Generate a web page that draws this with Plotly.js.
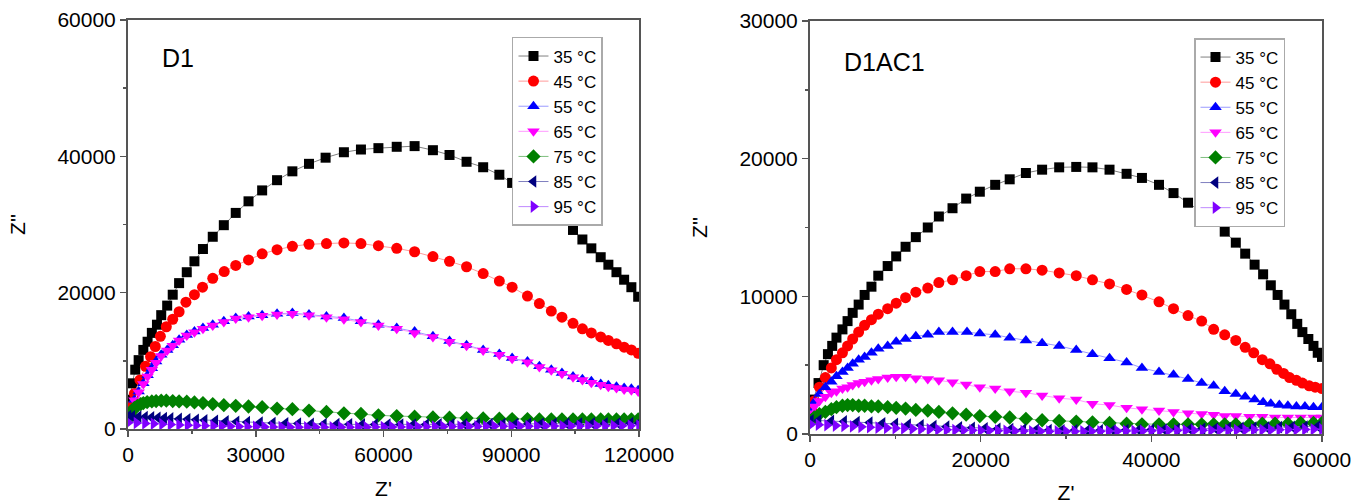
<!DOCTYPE html>
<html>
<head>
<meta charset="utf-8">
<script src="https://cdn.plot.ly/plotly-3.0.1.min.js"></script>
<style>html,body{margin:0;padding:0;background:#fff;}#chart{width:1351px;height:504px;}</style>
</head>
<body>
<div id="chart"></div>
<script>
// ---------- data ----------
const seriesNames = ["35 °C", "45 °C", "55 °C", "65 °C", "75 °C", "85 °C", "95 °C"];

// Panel D1
const d1_x35 = [150, 500, 1000, 1700, 2500, 3600, 4600, 5600, 6800, 7800, 9200, 10500, 12000, 13800, 15600, 17600, 19900, 22500, 25300, 28300, 31500, 35000, 38600, 42500, 46400, 50700, 54700, 58800, 63100, 67300, 71600, 75500, 79500, 83400, 87200, 90200, 93800, 96600, 99400, 101900, 104500, 106700, 108800, 111000, 112800, 114700, 116500, 118200, 119800];
const d1_y35 = [2000, 4300, 6700, 8700, 10100, 11600, 12800, 14100, 15300, 16700, 18100, 19700, 21400, 23000, 24600, 26400, 28200, 29900, 31700, 33400, 35000, 36500, 37800, 38900, 39800, 40600, 41000, 41200, 41400, 41500, 40900, 40200, 39200, 38400, 37300, 36100, 34600, 33200, 31900, 30600, 29200, 27800, 26500, 25200, 24100, 23000, 21900, 20800, 19400];

const d1_x45 = [300, 700, 1500, 2800, 4100, 5300, 6400, 7600, 9000, 10500, 12000, 13600, 15600, 17500, 19900, 22600, 25300, 28300, 31500, 35000, 38600, 42500, 46600, 50700, 54700, 58800, 63100, 67300, 71600, 75500, 79500, 83400, 87200, 90200, 93800, 96600, 99400, 101900, 104500, 106700, 108800, 111000, 112800, 114700, 116500, 118200, 119800];
const d1_y45 = [1800, 3300, 5200, 7200, 9200, 10600, 12100, 13600, 15000, 16100, 17200, 18600, 19700, 20800, 22100, 23100, 24000, 24800, 25700, 26300, 26800, 27100, 27200, 27300, 27200, 26900, 26500, 26000, 25300, 24600, 23800, 22800, 21700, 20800, 19500, 18400, 17300, 16400, 15500, 14700, 14100, 13500, 13000, 12500, 12000, 11600, 11100];

const d1_x55 = [300, 700, 1500, 2500, 3600, 4600, 5600, 6600, 7800, 9200, 10500, 12000, 13800, 15600, 17600, 19900, 22500, 25300, 28300, 31500, 35000, 38600, 42500, 46600, 50700, 54700, 58800, 63100, 67300, 71600, 75500, 79500, 83400, 87200, 90200, 93800, 96600, 99400, 101900, 104500, 106700, 108800, 111000, 112800, 114700, 116500, 118200, 119800];
const d1_y55 = [1600, 2800, 4300, 5500, 6700, 7900, 8900, 9900, 10900, 11600, 12300, 13100, 13800, 14300, 14800, 15300, 15800, 16300, 16500, 16700, 16900, 17000, 16800, 16500, 16300, 15800, 15300, 14800, 14300, 13600, 12900, 12300, 11600, 11000, 10400, 9900, 9200, 8700, 8200, 7700, 7300, 7000, 6600, 6400, 6200, 6000, 5900, 5700];

const d1_x65 = [300, 700, 1500, 2500, 3600, 4600, 5600, 6600, 7800, 9200, 10500, 12000, 13800, 15600, 17600, 19900, 22500, 25300, 28300, 31500, 35000, 38600, 42500, 46600, 50700, 54700, 58800, 63100, 67300, 71600, 75500, 79500, 83400, 87200, 90200, 93800, 96600, 99400, 101900, 104500, 106700, 108800, 111000, 112800, 114700, 116500, 118200, 119800];
const d1_y65 = [1500, 2700, 4200, 5400, 6600, 7700, 8700, 9700, 10700, 11500, 12200, 13000, 13700, 14200, 14700, 15200, 15700, 16200, 16400, 16600, 16800, 16900, 16700, 16400, 16100, 15700, 15200, 14700, 14100, 13500, 12800, 12200, 11500, 10900, 10300, 9800, 9100, 8600, 8100, 7600, 7200, 6800, 6500, 6200, 6000, 5800, 5700, 5500];

const d1_x75 = [100, 500, 1000, 1500, 2200, 3000, 3600, 4500, 5600, 6600, 7800, 9000, 10500, 12000, 13800, 15600, 17600, 19900, 22500, 25300, 28300, 31500, 35000, 38600, 42500, 46600, 50700, 54700, 58800, 63100, 67300, 71600, 75500, 79500, 83400, 87200, 90200, 93800, 96600, 99400, 101900, 104500, 106700, 108800, 111000, 112800, 114700, 116500, 118200, 119800];
const d1_y75 = [1500, 2200, 2700, 3100, 3400, 3650, 3800, 3950, 4050, 4100, 4150, 4150, 4100, 4050, 4000, 3900, 3800, 3650, 3500, 3400, 3300, 3200, 3000, 2900, 2700, 2500, 2300, 2200, 2000, 1900, 1800, 1700, 1650, 1600, 1550, 1500, 1450, 1450, 1400, 1400, 1400, 1400, 1400, 1400, 1400, 1400, 1400, 1400, 1400, 1400];

const d1_x85 = [100, 1000, 2500, 4000, 5500, 7000, 8500, 10000, 12000, 14000,
                16000, 18000, 20500, 23000, 25500, 28000, 31000, 34000, 37000, 40000,
                43000, 46000, 49000, 52000, 55000, 58000, 61000, 64000, 67000, 70000,
                73000, 76000, 79000, 82000, 85000, 88000, 91000, 94000, 97000, 100000,
                103000, 106000, 109000, 112000, 115000, 118000, 120000];
const d1_y85 = [1900, 1850, 1800, 1750, 1700, 1650, 1600, 1550, 1480, 1420,
                1350, 1280, 1200, 1130, 1060, 1000, 940, 880, 830, 790,
                750, 720, 700, 680, 670, 660, 650, 650, 650, 660,
                670, 680, 690, 700, 710, 720, 730, 740, 760, 770,
                780, 800, 810, 820, 840, 850, 860];

const d1_x95 = [100, 2000, 4000, 6000, 8000, 10000, 12000, 14000, 16000, 18000,
                20000, 22000, 24000, 26000, 28000, 30000, 32000, 34000, 36000, 38000,
                40000, 42000, 44000, 46000, 48000, 50000, 52000, 54000, 56000, 58000,
                60000, 62000, 64000, 66000, 68000, 70000, 72000, 74000, 76000, 78000,
                80000, 82000, 84000, 86000, 88000, 90000, 92000, 94000, 96000, 98000,
                100000, 102000, 104000, 106000, 108000, 110000, 112000, 114000, 116000, 118000, 120000];
const d1_y95 = [950, 880, 820, 760, 700, 650, 600, 560, 520, 480,
                450, 420, 390, 360, 340, 320, 300, 290, 280, 270,
                260, 250, 250, 250, 250, 260, 260, 270, 270, 280,
                290, 300, 300, 310, 320, 330, 340, 340, 350, 360,
                370, 380, 380, 390, 400, 400, 410, 420, 420, 430,
                440, 440, 450, 450, 460, 470, 470, 480, 480, 490, 500];

// Panel D1AC1
const d2_x35 = [150, 400, 1000, 1600, 2100, 2600, 3100, 3800, 4400, 5000, 5700, 6400, 7200, 8000, 9100, 10100, 11200, 12400, 13800, 15100, 16700, 18300, 19900, 21700, 23400, 25300, 27200, 29200, 31200, 33100, 35100, 37100, 38900, 40900, 42600, 44300, 46000, 47300, 48600, 49900, 51000, 52100, 53100, 54000, 54800, 55600, 56400, 57100, 57700, 58400, 59000, 59500, 60000];
const d2_y35 = [1800, 2500, 3700, 5000, 5800, 6400, 7000, 7600, 8200, 8800, 9400, 10100, 10700, 11500, 12200, 12900, 13600, 14300, 15000, 15800, 16400, 17100, 17600, 18100, 18500, 18960, 19200, 19370, 19400, 19370, 19200, 18900, 18600, 18100, 17500, 16800, 16100, 15500, 14700, 13900, 13100, 12300, 11600, 10800, 10100, 9400, 8700, 8000, 7400, 6900, 6400, 5900, 5600];

const d2_x45 = [200, 500, 1100, 1800, 2500, 3100, 3800, 4400, 5000, 5700, 6400, 7200, 8000, 9100, 10100, 11200, 12400, 13800, 15100, 16700, 18300, 19900, 21700, 23400, 25300, 27200, 29200, 31200, 33100, 35100, 37100, 38900, 40900, 42600, 44300, 45900, 47300, 48600, 49900, 51000, 52000, 53000, 53900, 54700, 55500, 56200, 57000, 57700, 58500, 59200, 60000];
const d2_y45 = [1700, 2400, 3400, 4100, 4800, 5400, 5900, 6400, 6900, 7400, 7900, 8300, 8700, 9100, 9500, 9900, 10300, 10600, 11000, 11200, 11500, 11800, 11800, 12000, 12000, 11900, 11700, 11500, 11200, 10900, 10500, 10100, 9600, 9100, 8600, 8200, 7600, 7200, 6800, 6300, 5900, 5400, 5100, 4700, 4400, 4100, 3900, 3700, 3500, 3400, 3300];

const d2_x55 = [200, 500, 1100, 1800, 2500, 3100, 3800, 4400, 5000, 5700, 6400, 7200, 8000, 9100, 10100, 11200, 12400, 13800, 15100, 16700, 18400, 19900, 21700, 23400, 25300, 27200, 29200, 31200, 33100, 35100, 37100, 38900, 40900, 42600, 44300, 45900, 47300, 48600, 49900, 51000, 52100, 53100, 54000, 55000, 56000, 57000, 58000, 59000, 60000];
const d2_y55 = [1600, 2300, 2900, 3400, 3800, 4200, 4500, 4800, 5100, 5400, 5600, 5900, 6200, 6400, 6700, 6900, 7100, 7200, 7400, 7400, 7400, 7300, 7200, 7000, 6800, 6600, 6400, 6100, 5800, 5500, 5200, 4800, 4500, 4300, 4000, 3700, 3500, 3100, 2900, 2700, 2500, 2300, 2200, 2100, 2050, 2000, 2000, 1950, 1950];

const d2_x65 = [200, 500, 1100, 1800, 2500, 3100, 3800, 4400, 5000, 5700, 6400, 7200, 8000, 9100, 10100, 11200, 12400, 13800, 15100, 16700, 18300, 19900, 21700, 23400, 25300, 27200, 29200, 31200, 33100, 35100, 37100, 38900, 40900, 42600, 44300, 45900, 47300, 48600, 49900, 51500, 53000, 54500, 56000, 57500, 59000, 60000];
const d2_y65 = [1500, 2000, 2400, 2700, 3000, 3100, 3300, 3400, 3550, 3700, 3800, 3900, 4000, 4100, 4150, 4150, 4050, 4000, 3900, 3750, 3600, 3400, 3300, 3100, 3000, 2800, 2600, 2500, 2200, 2100, 1900, 1800, 1700, 1600, 1500, 1450, 1400, 1300, 1300, 1250, 1250, 1200, 1200, 1200, 1200, 1200];

const d2_x75 = [200, 500, 1100, 1800, 2500, 3100, 3800, 4400, 5000, 5700, 6400, 7200, 8000, 9100, 10100, 11200, 12400, 13800, 15100, 16700, 18300, 19900, 21700, 23400, 25300, 27200, 29200, 31200, 33100, 35100, 37100, 38900, 40900, 42600, 44300, 45900, 47300, 48600, 49900, 51500, 53000, 54500, 56000, 57500, 59000, 60000];
const d2_y75 = [1000, 1200, 1450, 1600, 1800, 1950, 2050, 2100, 2100, 2050, 2050, 2000, 2000, 1950, 1900, 1850, 1750, 1700, 1600, 1500, 1400, 1300, 1250, 1200, 1100, 1000, 950, 900, 850, 800, 750, 700, 700, 700, 700, 700, 700, 700, 700, 700, 750, 750, 750, 800, 800, 800];

const d2_x85 = [100, 1000, 2500, 4000, 5500, 7000, 8500, 10000, 11500, 13000,
                14500, 16000, 17500, 19000, 20500, 22000, 23500, 25000, 26500, 28000,
                29500, 31000, 32500, 34000, 35500, 37000, 38500, 40000, 41500, 43000,
                44500, 46000, 47500, 49000, 50500, 52000, 53500, 55000, 56500, 58000, 59500];
const d2_y85 = [1000, 980, 950, 910, 870, 830, 780, 730, 680, 630,
                580, 530, 490, 450, 410, 380, 350, 320, 300, 280,
                270, 260, 260, 260, 270, 280, 290, 300, 320, 340,
                360, 380, 400, 420, 440, 460, 480, 500, 520, 540, 560];

const d2_x95 = [100, 1000, 2000, 3000, 4000, 5000, 6000, 7000, 8000, 9000,
                10000, 11000, 12000, 13000, 14000, 15000, 16000, 17000, 18000, 19000,
                20000, 21000, 22000, 23000, 24000, 25000, 26000, 27000, 28000, 29000,
                30000, 31000, 32000, 33000, 34000, 35000, 36000, 37000, 38000, 39000,
                40000, 41000, 42000, 43000, 44000, 45000, 46000, 47000, 48000, 49000,
                50000, 51000, 52000, 53000, 54000, 55000, 56000, 57000, 58000, 59000, 60000];
const d2_y95 = [700, 670, 640, 610, 580, 550, 520, 490, 460, 440,
                420, 400, 380, 360, 340, 320, 300, 290, 280, 270,
                260, 250, 240, 230, 220, 210, 200, 200, 190, 190,
                190, 190, 190, 200, 200, 210, 210, 220, 220, 230,
                240, 240, 250, 250, 260, 260, 270, 270, 280, 280,
                290, 290, 300, 300, 310, 310, 320, 320, 330, 340, 350];

const panelLabels = ["D1", "D1AC1"];
const axisTitleX = "Z'";
const axisTitleY = "Z''";

// ---------- styles ----------
const markerColors = ["#000000", "#ff0000", "#0000ff", "#ff00ff", "#008000", "#000080", "#7f00ff"];
const lineColors = ["#808080", "#ff9a9a", "#9a9aff", "#ff9aff", "#7fbf7f", "#7f7fbf", "#bf8aff"];
const symbols = ["square", "circle", "triangle-up", "triangle-down", "diamond", "triangle-left", "triangle-right"];
const sizes = [10, 11, 11, 11, 11, 11, 11];

const d1X = [d1_x35, d1_x45, d1_x55, d1_x65, d1_x75, d1_x85, d1_x95];
const d1Y = [d1_y35, d1_y45, d1_y55, d1_y65, d1_y75, d1_y85, d1_y95];
const d2X = [d2_x35, d2_x45, d2_x55, d2_x65, d2_x75, d2_x85, d2_x95];
const d2Y = [d2_y35, d2_y45, d2_y55, d2_y65, d2_y75, d2_y85, d2_y95];

const FONT = "Liberation Sans, Arial, Helvetica, sans-serif";
const traces = [];
function addPanel(X, Y, xa, ya, leg) {
  for (let i = 0; i < seriesNames.length; i++) {
    traces.push({
      type: "scatter", mode: "lines+markers",
      x: X[i], y: Y[i], name: seriesNames[i],
      xaxis: xa, yaxis: ya, legend: leg,
      line: {color: lineColors[i], width: 1},
      marker: {symbol: symbols[i], color: markerColors[i], size: sizes[i]},
      cliponaxis: true, hoverinfo: "x+y+name"
    });
  }
}
addPanel(d1X, d1Y, "x", "y", "legend");
addPanel(d2X, d2Y, "x2", "y2", "legend2");

const AX = "#555555";
function axis(extra) {
  return Object.assign({
    showline: true, linecolor: AX, linewidth: 2, mirror: true,
    ticks: "outside", ticklen: 6, tickwidth: 1.5, tickcolor: AX,
    showgrid: false, zeroline: false, tickformat: "d",
    tickfont: {family: FONT, size: 21, color: "#000"},
    ticklabeloverflow: "allow",
    automargin: false
  }, extra);
}
function legendBox(x, y) {
  return {
    x: x, y: y, xanchor: "left", yanchor: "top",
    bgcolor: "#ffffff", bordercolor: "#aaaaaa", borderwidth: 1.5,
    font: {family: FONT, size: 17, color: "#000"}, tracegroupgap: 0
  };
}

const layout = {
  width: 1351, height: 504,
  margin: {l: 128, r: 29, t: 20, b: 70},
  paper_bgcolor: "#ffffff", plot_bgcolor: "#ffffff",
  font: {family: FONT, color: "#000"},
  showlegend: true,
  xaxis: axis({domain: [0, 0.428], range: [0, 120000], tick0: 0, dtick: 30000, anchor: "y",
    minor: {ticks: "outside", ticklen: 3, dtick: 15000, tickcolor: AX},
    title: {text: axisTitleX, font: {family: FONT, size: 21}, standoff: 16}}),
  yaxis: axis({domain: [0.0121, 1], range: [0, 60000], tick0: 0, dtick: 20000, anchor: "x",
    minor: {ticks: "outside", ticklen: 3, dtick: 10000, tickcolor: AX},
    title: {text: axisTitleY, font: {family: FONT, size: 21}, standoff: 26}}),
  xaxis2: axis({domain: [0.5712, 1], range: [0, 60000], tick0: 0, dtick: 20000, anchor: "y2",
    minor: {ticks: "outside", ticklen: 3, dtick: 10000, tickcolor: AX},
    title: {text: axisTitleX, font: {family: FONT, size: 21}, standoff: 16}}),
  yaxis2: axis({domain: [0, 0.9976], range: [0, 30000], tick0: 0, dtick: 10000, anchor: "x2",
    minor: {ticks: "outside", ticklen: 3, dtick: 5000, tickcolor: AX},
    title: {text: axisTitleY, font: {family: FONT, size: 21}, standoff: 26}}),
  legend: legendBox(0.3216, 0.959),
  legend2: legendBox(0.8928, 0.9565),
  annotations: [
    {text: panelLabels[0], xref: "paper", yref: "paper", x: 0.0268, y: 0.908, xanchor: "left", yanchor: "middle",
     showarrow: false, font: {family: FONT, size: 25, color: "#000"}},
    {text: panelLabels[1], xref: "paper", yref: "paper", x: 0.598, y: 0.8986, xanchor: "left", yanchor: "middle",
     showarrow: false, font: {family: FONT, size: 25, color: "#000"}}
  ]
};

Plotly.newPlot("chart", traces, layout, {displayModeBar: false, staticPlot: true});
</script>
</body>
</html>
